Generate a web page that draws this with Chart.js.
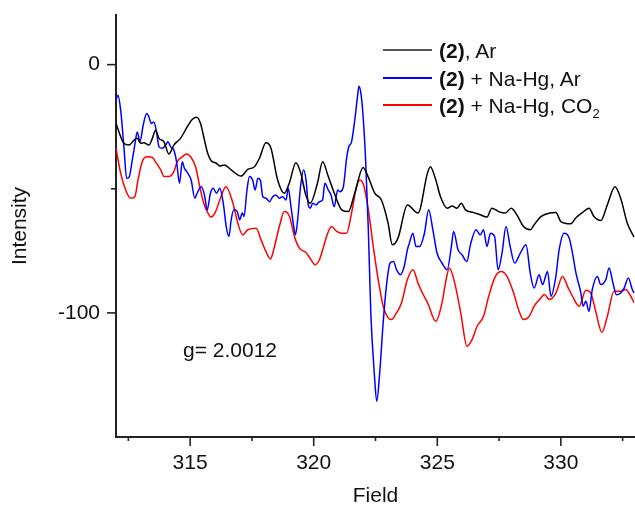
<!DOCTYPE html>
<html>
<head>
<meta charset="UTF-8">
<title>EPR spectra</title>
<style>
    body {
        margin: 0;
        background: #ffffff;
        font-family: 'Liberation Sans', Arial, sans-serif;
    }
    .wrap {
        position: relative;
        width: 635px;
        height: 507px;
    }
    .legend-row {
        position: absolute;
        left: 439px;
        font-size: 21px;
        line-height: 21px;
        color: #111;
        white-space: nowrap;
    }
    .legend-row sub {
        font-size: 13px;
        line-height: 0;
    }
    .swatch {
        position: absolute;
        left: 383px;
        width: 49px;
        height: 2px;
    }
    .note {
        position: absolute;
        left: 183px;
        top: 339px;
        font-size: 21px;
        line-height: 21px;
        color: #111;
    }
</style>
</head>
<body>
<div class="wrap">
    <canvas id="epr"></canvas>

    <!-- legend -->
    <div class="swatch" style="top:49px; background:#555;"></div>
    <div class="legend-row" style="top:40px;"><b>(2)</b>, Ar</div>
    <div class="swatch" style="top:77px; background:#0000ff;"></div>
    <div class="legend-row" style="top:68px;"><b>(2)</b> + Na-Hg, Ar</div>
    <div class="swatch" style="top:104px; background:#ff0000;"></div>
    <div class="legend-row" style="top:95px;"><b>(2)</b> + Na-Hg, CO<sub>2</sub></div>

    <div class="note">g= 2.0012</div>
</div>

<script src="https://cdn.jsdelivr.net/npm/chart.js"></script>
<script>
// (2), Ar
const arField = [312.00,312.32,312.53,312.73,312.86,313.00,313.13,313.33,313.47,313.60,313.74,313.94,314.14,314.34,314.61,314.88,315.08,315.27,315.42,315.58,315.71,315.89,316.03,316.20,316.39,316.66,317.06,317.33,317.60,317.80,318.07,318.27,318.54,318.81,319.01,319.28,319.48,319.68,319.86,320.15,320.36,320.59,320.86,321.13,321.40,321.66,322.00,322.20,322.47,322.74,323.01,323.18,323.41,323.79,324.22,324.60,324.72,324.92,325.13,325.40,325.60,325.80,325.97,326.14,326.47,326.74,327.01,327.21,327.48,327.75,327.99,328.22,328.49,328.76,328.92,329.19,329.53,329.80,330.00,330.40,330.60,330.87,331.14,331.34,331.62,331.88,332.19,332.42,332.69,332.96];
const arIntensity = [-23.7,-31.7,-32.4,-30.4,-29.7,-31.7,-31.5,-32.4,-29.7,-26.4,-29.7,-31.1,-36.0,-32.4,-29.7,-25.1,-22.1,-21.2,-23.7,-30.4,-35.7,-39.1,-39.5,-40.8,-40.4,-42.4,-44.9,-42.2,-41.1,-37.8,-31.5,-33.7,-46.5,-51.8,-47.8,-39.5,-43.8,-52.5,-55.8,-47.8,-39.1,-45.1,-52.5,-58.5,-59.2,-51.8,-41.4,-45.1,-51.8,-54.5,-63.9,-72.6,-69.9,-56.5,-59.8,-43.8,-41.1,-45.8,-53.2,-57.8,-56.9,-57.8,-55.8,-58.5,-59.6,-60.5,-61.4,-57.8,-59.2,-59.8,-57.8,-60.5,-65.2,-66.5,-64.5,-61.2,-59.8,-59.6,-63.2,-64.1,-61.8,-59.6,-57.8,-61.2,-62.8,-56.5,-49.2,-53.8,-63.9,-69.5];

// (2) + Na-Hg, Ar
const naArField = [312.00,312.08,312.19,312.32,312.43,312.53,312.66,312.76,312.86,312.97,313.10,313.24,313.33,313.43,313.53,313.64,313.74,313.87,314.01,314.10,314.21,314.34,314.45,314.57,314.68,314.77,314.91,315.04,315.19,315.28,315.45,315.58,315.69,315.82,315.93,316.07,316.20,316.34,316.47,316.57,316.66,316.77,316.91,317.00,317.11,317.18,317.30,317.40,317.53,317.63,317.74,317.84,317.94,318.07,318.21,318.34,318.47,318.61,318.74,318.88,318.97,319.08,319.19,319.26,319.35,319.46,319.59,319.69,319.78,319.86,319.96,320.09,320.23,320.36,320.45,320.59,320.70,320.83,320.97,321.06,321.20,321.33,321.42,321.53,321.66,321.77,321.83,321.91,322.00,322.10,322.21,322.31,322.45,322.55,322.67,322.81,322.94,323.09,323.23,323.35,323.51,323.66,323.79,323.87,324.01,324.14,324.28,324.48,324.65,324.82,324.99,325.19,325.40,325.57,325.66,325.84,326.00,326.20,326.34,326.57,326.74,326.87,327.01,327.15,327.32,327.46,327.62,327.78,327.95,328.13,328.36,328.59,328.76,328.92,329.12,329.26,329.46,329.60,329.79,329.93,330.13,330.34,330.47,330.61,330.81,330.90,331.01,331.14,331.27,331.48,331.61,331.82,331.95,332.11,332.25,332.42,332.56,332.73,332.89,332.96];
const naArIntensity = [-14.3,-12.3,-18.4,-33.1,-45.8,-45.3,-38.4,-32.4,-27.1,-31.1,-24.4,-19.7,-21.0,-23.7,-23.1,-27.1,-33.1,-33.7,-32.4,-31.1,-33.1,-34.4,-39.1,-47.8,-39.1,-41.8,-43.8,-46.5,-53.8,-51.8,-49.2,-52.5,-58.5,-51.8,-49.8,-51.8,-49.8,-55.8,-65.9,-69.2,-62.5,-58.5,-59.2,-62.5,-59.8,-61.2,-50.5,-45.1,-46.5,-50.5,-45.8,-46.5,-53.2,-53.8,-55.2,-53.2,-52.5,-53.8,-53.2,-54.5,-49.8,-57.2,-65.2,-68.6,-62.5,-49.8,-42.4,-46.5,-56.5,-57.8,-55.8,-56.5,-55.2,-54.5,-47.8,-50.5,-52.5,-57.2,-50.5,-51.2,-49.2,-37.8,-33.1,-31.1,-22.4,-13.0,-8.7,-11.6,-21.0,-38.4,-66.5,-100.0,-124.1,-135.6,-124.1,-104.0,-89.3,-79.9,-79.3,-82.6,-84.6,-81.3,-74.6,-71.9,-67.9,-73.3,-73.3,-67.9,-58.5,-66.5,-75.9,-79.9,-82.6,-73.3,-67.2,-74.6,-76.6,-79.3,-72.6,-66.5,-68.6,-66.5,-73.3,-67.9,-69.2,-82.6,-75.9,-65.2,-73.3,-79.9,-75.9,-72.6,-83.9,-90.0,-84.6,-88.6,-83.3,-93.3,-85.8,-74.6,-67.9,-69.9,-75.9,-83.9,-92.0,-97.3,-95.3,-99.4,-90.6,-85.3,-88.6,-86.6,-81.9,-88.0,-92.7,-92.0,-90.0,-85.9,-90.6,-92.0];

// (2) + Na-Hg, CO2
const naCoField = [312.00,312.19,312.39,312.59,312.76,312.89,313.06,313.26,313.47,313.64,313.81,313.94,314.14,314.34,314.48,314.68,314.86,315.02,315.22,315.39,315.55,315.69,315.85,316.03,316.20,316.45,316.73,316.93,317.13,317.33,317.67,317.87,318.07,318.25,318.41,318.61,318.81,319.02,319.22,319.42,319.69,319.89,320.05,320.23,320.40,320.52,320.72,320.93,321.13,321.33,321.53,321.73,321.87,322.04,322.21,322.41,322.61,322.81,323.01,323.15,323.35,323.55,323.79,324.02,324.22,324.43,324.61,324.94,325.19,325.33,325.49,325.69,325.95,326.20,326.41,326.61,326.87,327.08,327.35,327.59,327.82,328.09,328.29,328.49,328.72,328.92,329.19,329.33,329.53,329.80,330.07,330.27,330.47,330.74,331.01,331.21,331.41,331.66,331.88,332.15,332.42,332.62,332.83,332.96];
const naCoIntensity = [-33.7,-43.8,-50.5,-53.8,-53.2,-46.5,-39.1,-37.1,-37.4,-39.8,-42.4,-45.1,-45.1,-43.1,-39.1,-37.1,-36.0,-37.1,-41.1,-49.2,-55.8,-59.2,-61.4,-59.2,-54.5,-49.2,-55.8,-63.9,-68.6,-66.5,-65.9,-70.6,-75.3,-78.3,-73.3,-65.2,-59.2,-61.2,-69.2,-73.9,-75.7,-78.6,-80.6,-78.6,-73.3,-69.2,-65.2,-67.2,-67.9,-67.9,-59.8,-49.2,-46.5,-49.2,-58.5,-73.3,-86.6,-97.3,-102.0,-102.7,-100.0,-96.0,-86.6,-82.6,-88.0,-92.6,-96.0,-103.4,-96.0,-88.0,-81.9,-87.3,-100.0,-113.4,-110.7,-105.4,-101.4,-93.3,-85.3,-83.3,-85.3,-92.0,-98.7,-102.7,-101.4,-97.3,-94.0,-92.6,-94.6,-92.0,-85.3,-89.3,-93.3,-97.3,-90.9,-92.0,-99.4,-107.9,-101.4,-91.3,-91.3,-90.6,-93.3,-95.9];

// axes
const xTicks = [312.5, 315, 317.5, 320, 322.5, 325, 327.5, 330, 332.5];
const xLabels = [315, 320, 325, 330];
const yTicks = [-100, -50, 0];
const yLabels = [-100, 0];

const toPoints = (xs, ys) => xs.map((v, i) => ({ x: v, y: ys[i] }));

const axisColor = '#222';
const font = { family: "'Liberation Sans', Arial, sans-serif", size: 21 };

// major / minor tick marks drawn outside the plot
const tickMarks = {
    id: 'tickMarks',
    afterDraw(chart) {
        const { ctx, scales: { x, y } } = chart;
        ctx.save();
        ctx.strokeStyle = axisColor;
        ctx.lineWidth = 1.6;
        x.ticks.forEach(t => {
            const px = x.getPixelForValue(t.value);
            const len = xLabels.includes(t.value) ? 9 : 4;
            ctx.beginPath();
            ctx.moveTo(px, x.top);
            ctx.lineTo(px, x.top + len);
            ctx.stroke();
        });
        y.ticks.forEach(t => {
            const py = y.getPixelForValue(t.value);
            const len = yLabels.includes(t.value) ? 9 : 5;
            ctx.beginPath();
            ctx.moveTo(y.right, py);
            ctx.lineTo(y.right - len, py);
            ctx.stroke();
        });
        ctx.restore();
    }
};

new Chart(document.getElementById('epr'), {
    type: 'line',
    data: {
        datasets: [
            {
                label: '(2), Ar',
                data: toPoints(arField, arIntensity),
                borderColor: '#000000',
                borderWidth: 1.5,
                pointRadius: 0,
                cubicInterpolationMode: 'monotone'
            },
            {
                label: '(2) + Na-Hg, Ar',
                data: toPoints(naArField, naArIntensity),
                borderColor: '#0000ff',
                borderWidth: 1.5,
                pointRadius: 0,
                cubicInterpolationMode: 'monotone'
            },
            {
                label: '(2) + Na-Hg, CO2',
                data: toPoints(naCoField, naCoIntensity),
                borderColor: '#ff0000',
                borderWidth: 1.5,
                pointRadius: 0,
                cubicInterpolationMode: 'monotone'
            }
        ]
    },
    options: {
        responsive: true,
        maintainAspectRatio: false,
        animation: false,
        layout: { padding: 0 },
        plugins: {
            legend: { display: false },
            tooltip: { enabled: false }
        },
        scales: {
            x: {
                type: 'linear',
                min: 312,
                max: 333,
                afterBuildTicks: s => { s.ticks = xTicks.map(v => ({ value: v })); },
                afterFit: s => { s.height = 70; s.paddingLeft = 0; s.paddingRight = 0; },
                grid: { display: false, drawTicks: false },
                border: { display: true, color: axisColor, width: 2 },
                ticks: {
                    autoSkip: false,
                    maxRotation: 0,
                    padding: 14,
                    color: '#111',
                    font: font,
                    callback: v => xLabels.includes(v) ? String(v) : ''
                },
                title: {
                    display: true,
                    text: 'Field',
                    color: '#111',
                    font: { ...font, lineHeight: 1 },
                    padding: { top: 0, bottom: 0 }
                }
            },
            y: {
                type: 'linear',
                min: -150,
                max: 20,
                afterBuildTicks: s => { s.ticks = yTicks.map(v => ({ value: v })); },
                afterFit: s => { s.width = 116; s.paddingTop = 15; s.paddingBottom = 0; },
                grid: { display: false, drawTicks: false },
                border: { display: true, color: axisColor, width: 2 },
                ticks: {
                    autoSkip: false,
                    padding: 16,
                    color: '#111',
                    font: font,
                    callback: v => yLabels.includes(v) ? String(v) : ''
                },
                title: {
                    display: true,
                    text: 'Intensity',
                    color: '#111',
                    font: { ...font, lineHeight: 1 },
                    padding: { top: 10, bottom: 0 }
                }
            }
        }
    },
    plugins: [tickMarks]
});
</script>
</body>
</html>
